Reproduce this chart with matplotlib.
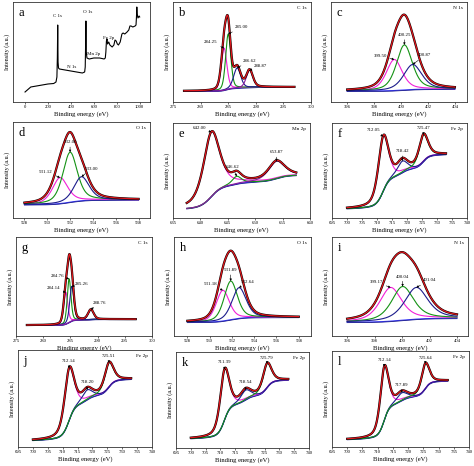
import numpy as np
import matplotlib
matplotlib.use('Agg')
import matplotlib.pyplot as plt

plt.rcParams['font.family'] = 'Liberation Serif'

# ---- survey (a), intensity as fraction of axis height
survey_be = [0, 20, 50, 100, 150, 200, 250, 270, 278, 282, 285, 288, 292, 300, 350, 400,
             450, 500, 520, 525, 528, 531, 534, 540, 560, 600, 650, 690, 700, 705, 710,
             715, 720, 730, 740, 760, 775, 785, 795, 805, 815, 830, 845, 855, 870, 890,
             905, 915, 925, 940, 960, 968, 972, 975, 978, 985, 995, 1000]
survey_int = [0.10, 0.12, 0.15, 0.16, 0.17, 0.18, 0.185, 0.20, 0.25, 0.45, 0.77, 0.40,
              0.34, 0.33, 0.32, 0.31, 0.30, 0.29, 0.30, 0.35, 0.55, 0.81, 0.50, 0.44,
              0.43, 0.44, 0.44, 0.43, 0.44, 0.50, 0.61, 0.63, 0.58, 0.60, 0.57, 0.55,
              0.57, 0.62, 0.61, 0.58, 0.57, 0.60, 0.68, 0.69, 0.68, 0.70, 0.72, 0.76,
              0.76, 0.75, 0.76, 0.77, 0.85, 0.95, 0.88, 0.84, 0.86, 0.85]
survey_names = ['C 1s', 'O 1s', 'N 1s', 'Mn 2p', 'Fe 2p']
survey_name_be = [280, 545, 405, 595, 725]
survey_name_y = [0.85, 0.89, 0.34, 0.47, 0.63]

# ---- fitted components: centre (eV), height, FWHM; background (start, end)
b_pos = [284.25, 285.00, 286.62, 288.87]
b_ht = [0.42, 0.55, 0.20, 0.17]
b_fwhm = [1.2, 1.1, 1.5, 1.4]
b_bg = [0.11, 0.15]
b_range = [277, 297]

c_pos = [399.50, 400.25, 400.87]
c_ht = [0.31, 0.45, 0.25]
c_fwhm = [1.4, 1.4, 1.6]
c_bg = [0.11, 0.13]
c_range = [396, 404]

d_pos = [531.12, 532.00, 533.00]
d_ht = [0.27, 0.52, 0.25]
d_fwhm = [1.6, 1.5, 1.6]
d_bg = [0.14, 0.19]
d_range = [528, 538]

e_pos = [642.00, 646.62, 653.87]
e_ht = [0.68, 0.08, 0.18]
e_fwhm = [3.5, 2.0, 3.5]
e_bg = [0.10, 0.45]
e_range = [637.5, 657.5]

f_pos = [712.05, 718.42, 725.47]
f_ht = [0.58, 0.12, 0.28]
f_fwhm = [4.0, 4.0, 3.5]
f_bg = [0.10, 0.67]
f_range = [700, 733]

g_pos = [284.14, 284.76, 285.26, 288.76]
g_ht = [0.32, 0.44, 0.35, 0.10]
g_fwhm = [0.9, 0.8, 0.9, 1.2]
g_bg = [0.11, 0.17]
g_range = [277, 297]

h_pos = [531.18, 531.89, 532.64]
h_ht = [0.31, 0.39, 0.31]
h_fwhm = [1.4, 1.4, 1.5]
h_bg = [0.14, 0.19]
h_range = [528, 538]

i_pos = [399.17, 400.04, 401.04]
i_ht = [0.34, 0.34, 0.32]
i_fwhm = [1.9, 1.9, 2.0]
i_bg = [0.14, 0.18]
i_range = [396, 404]

j_pos = [712.14, 718.20, 725.51]
j_ht = [0.54, 0.10, 0.25]
j_fwhm = [3.8, 4.0, 3.5]
j_bg = [0.07, 0.70]
j_range = [700, 733]

k_pos = [711.39, 718.54, 725.79]
k_ht = [0.53, 0.10, 0.25]
k_fwhm = [3.6, 4.0, 3.4]
k_bg = [0.10, 0.71]
k_range = [700, 733]

l_pos = [712.14, 717.89, 725.64]
l_ht = [0.56, 0.08, 0.26]
l_fwhm = [3.2, 4.0, 3.0]
l_bg = [0.08, 0.69]
l_range = [700, 733]

RED = '#e3161c'
MAG = '#f21fd8'
GRN = '#149214'
NAVY = '#1c1c8c'
PURP = '#8c1a9c'
BLUE = '#3a3aff'

W, H = 474, 466
fig = plt.figure(figsize=(W / 100, H / 100), dpi=100)


def box(x0, y0, x1, y1):
    return fig.add_axes([x0 / W, 1 - y1 / H, (x1 - x0) / W, (y1 - y0) / H])


def pv(x, c, h, w, eta):
    u = 4 * (x - c) ** 2 / w ** 2
    return h * (eta * 1 / (1 + u) + (1 - eta) * np.exp(-np.log(2) * u))


def style(ax, letter, region, xlim, ticks):
    ax.set_xlim(xlim)
    ax.set_ylim(0, 1)
    ax.set_xticks(ticks)
    ax.set_yticks([])
    ax.tick_params(axis='x', labelsize=3.4, length=1.5, width=0.4, pad=1)
    for s in ax.spines.values():
        s.set_linewidth(0.6)
        s.set_color('#333333')
    ax.set_xlabel('Binding energy (eV)', fontsize=4.8, labelpad=1)
    ax.set_ylabel('Intensity (a.u.)', fontsize=4.4, labelpad=2)
    ax.text(0.04, 0.95, letter, transform=ax.transAxes, fontsize=9, va='top', ha='left')
    if region:
        ax.text(0.97, 0.96, region, transform=ax.transAxes, fontsize=3.8, va='top', ha='right')


def fit(ax, rng, pos, ht, fwhm, bg, colors, offs, eta=0.4):
    x = np.linspace(rng[0], rng[1], 500)
    comps = [pv(x, c, h, w, eta) for c, h, w in zip(pos, ht, fwhm)]
    tot = np.sum(comps, axis=0)
    cum = np.cumsum(tot)
    base = bg[0] + (bg[1] - bg[0]) * cum / cum[-1]
    ax.plot(x, base, color=BLUE, lw=0.8)
    ax.plot(x, base - 0.005, color=NAVY, lw=0.6)
    for comp, col in zip(comps, colors):
        ax.plot(x, base + comp, color=col, lw=0.8)
    env = base + tot
    ax.plot(x, env, color='k', lw=1.6)
    ax.plot(x, env, color=RED, lw=0.9)
    for c, comp, (dx, dy) in zip(pos, comps, offs):
        k = np.argmin(abs(x - c))
        yp = base[k] + comp[k]
        ax.annotate('%.2f' % c, xy=(c, yp), xytext=(dx * 0.72, dy * 0.72),
                    textcoords='offset points', fontsize=3.5, ha='center', va='bottom',
                    arrowprops=dict(arrowstyle='-|>', lw=0.4, color='k',
                                    mutation_scale=3, shrinkA=0, shrinkB=0))


# row 1
ax = box(13, 2, 150, 102)
style(ax, 'a', None, (-105, 1090), range(0, 1001, 200))
ax.plot(survey_be, survey_int, color='k', lw=0.8)
for n, xb, yb in zip(survey_names, survey_name_be, survey_name_y):
    ax.text(xb, yb, n, fontsize=3.6, ha='center')

ax = box(173, 2, 311, 102)
style(ax, 'b', 'C 1s', (275, 300), range(275, 301, 5))
fit(ax, b_range, b_pos, b_ht, b_fwhm, b_bg, [MAG, GRN, NAVY, PURP],
    [(-13, 4), (13, 5), (12, 5), (11, 2)], eta=0.3)

ax = box(331, 2, 467, 102)
style(ax, 'c', 'N 1s', (394.8, 404.9), range(396, 405, 2))
fit(ax, c_range, c_pos, c_ht, c_fwhm, c_bg, [MAG, GRN, NAVY],
    [(-14, 2), (0, 8), (12, 7)], eta=0.5)

# row 2
ax = box(13, 122, 150, 218)
style(ax, 'd', 'O 1s', (527, 539), range(528, 539, 2))
fit(ax, d_range, d_pos, d_ht, d_fwhm, d_bg, [MAG, GRN, NAVY],
    [(-14, 4), (0, 8), (10, 6)], eta=0.5)

ax = box(173, 123, 310, 218)
style(ax, 'e', 'Mn 2p', (635, 660), range(635, 661, 5))
fit(ax, e_range, e_pos, e_ht, e_fwhm, e_bg, [MAG, GRN, PURP],
    [(-12, 2), (-4, 7), (0, 7)], eta=0.6)

ax = box(332, 123, 467, 218)
style(ax, 'f', 'Fe 2p', (695, 740), range(695, 741, 5))
fit(ax, f_range, f_pos, f_ht, f_fwhm, f_bg, [MAG, NAVY, GRN],
    [(-10, 4), (0, 8), (0, 5)], eta=0.5)

# row 3
ax = box(16, 237, 152, 336)
style(ax, 'g', 'C 1s', (275, 300), range(275, 301, 5))
fit(ax, g_range, g_pos, g_ht, g_fwhm, g_bg, [MAG, GRN, NAVY, PURP],
    [(-12, 2), (-12, 1), (10, 0), (9, 5)], eta=0.3)

ax = box(174, 237, 311, 336)
style(ax, 'h', 'O 1s', (526.8, 539.1), range(528, 539, 2))
fit(ax, h_range, h_pos, h_ht, h_fwhm, h_bg, [MAG, GRN, NAVY],
    [(-12, 4), (0, 9), (9, 4)], eta=0.4)

ax = box(332, 237, 468, 336)
style(ax, 'i', 'N 1s', (394.9, 404.8), range(396, 405, 2))
fit(ax, i_range, i_pos, i_ht, i_fwhm, i_bg, [MAG, GRN, NAVY],
    [(-14, 3), (0, 8), (13, 5)], eta=0.6)

# row 4
ax = box(18, 350, 152, 447)
style(ax, 'j', 'Fe 2p', (695, 740), range(695, 741, 5))
fit(ax, j_range, j_pos, j_ht, j_fwhm, j_bg, [MAG, NAVY, GRN],
    [(0, 5), (0, 6), (0, 5)], eta=0.5)

ax = box(176, 352, 309, 448)
style(ax, 'k', 'Fe 2p', (695, 740), range(695, 741, 5))
fit(ax, k_range, k_pos, k_ht, k_fwhm, k_bg, [MAG, NAVY, GRN],
    [(0, 5), (0, 6), (0, 4)], eta=0.5)

ax = box(332, 351, 469, 447)
style(ax, 'l', 'Fe 2p', (695, 740), range(695, 741, 5))
fit(ax, l_range, l_pos, l_ht, l_fwhm, l_bg, [MAG, NAVY, GRN],
    [(0, 5), (0, 6), (0, 4)], eta=0.5)

fig.savefig('out.png', dpi=100)
